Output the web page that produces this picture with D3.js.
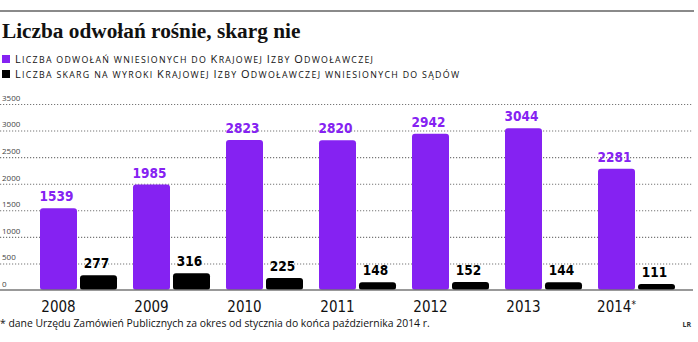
<!DOCTYPE html>
<html>
<head>
<meta charset="utf-8">
<script src="https://cdn.jsdelivr.net/npm/d3@7"></script>
<style>
	body { margin: 0; background: #fff; }
	svg { display: block; }
</style>
</head>
<body>
<svg id="chart" width="698" height="342"></svg>
<script>
// data
var years = ["2008", "2009", "2010", "2011", "2012", "2013", "2014*"];
var appeals = [1539, 1985, 2823, 2820, 2942, 3044, 2281];
var complaints = [277, 316, 225, 148, 152, 144, 111];
var yTicks = [0, 500, 1000, 1500, 2000, 2500, 3000, 3500];
var seriesNames = [
	"Liczba odwołań wniesionych do Krajowej Izby Odwoławczej",
	"Liczba skarg na wyroki Krajowej Izby Odwoławczej wniesionych do sądów"
];

var purple = "#8522f2";
var numFont = "DejaVu Sans Condensed, Liberation Sans, sans-serif";

var svg = d3.select("#chart"),
	width = +svg.attr("width");

var data = years.map(function(d, i) {
	return {year: d, a: appeals[i], b: complaints[i]};
});
var keys = ["a", "b"];
var z = d3.scaleOrdinal().domain(keys).range([purple, "#000"]);

// The scale spacing the groups:
var x0 = d3.scaleBand()
	.domain(years)
	.range([40, 675])
	.paddingInner(16 / 93)
	.paddingOuter(0);

// The scale for each group's bar:
var x1 = d3.scaleBand()
	.domain(keys)
	.range([0, x0.bandwidth()])
	.paddingInner(0.075);

var y = d3.scaleLinear()
	.domain([0, 3500])
	.range([290, 104]);

// top rule
svg.append("line")
	.attr("x1", 0).attr("x2", 694)
	.attr("y1", 11).attr("y2", 11)
	.attr("stroke", "#8a8a8a")
	.attr("stroke-width", 2);

// title
svg.append("text")
	.attr("x", 2)
	.attr("y", 38)
	.attr("font-family", "Liberation Serif, serif")
	.attr("font-weight", "bold")
	.attr("font-size", 21.3)
	.attr("fill", "#111")
	.text("Liczba odwołań rośnie, skarg nie");

// legend (hand-made small caps)
var legendWidths = [358, 444];
var legend = svg.append("g")
	.selectAll("g")
	.data(keys)
	.enter().append("g")
	.attr("transform", function(d, i) { return "translate(2," + (55 + i * 15) + ")"; });

legend.append("rect")
	.attr("width", 8)
	.attr("height", 8)
	.attr("fill", z);

legend.append("text")
	.attr("x", 13)
	.attr("y", 8)
	.attr("font-family", "Open Sans, sans-serif")
	.attr("fill", "#111")
	.attr("textLength", function(d, i) { return legendWidths[i]; })
	.attr("lengthAdjust", "spacing")
	.each(function(d, i) {
		var t = d3.select(this);
		seriesNames[i].split("").forEach(function(ch) {
			var big = ch !== ch.toLowerCase();
			t.append("tspan")
				.attr("font-size", big ? 11 : 8.8)
				.text(ch.toUpperCase());
		});
	});

// y grid + tick labels
var yAxis = svg.append("g")
	.attr("class", "y axis")
	.call(d3.axisRight(y).tickValues(yTicks).tickSize(693).tickFormat(d3.format("d")));

yAxis.select(".domain").remove();
yAxis.selectAll(".tick line")
	.attr("stroke", "#777")
	.attr("stroke-dasharray", "1.2,1.8")
	.attr("stroke-width", 1.1);
yAxis.selectAll(".tick text")
	.attr("x", 2)
	.attr("dy", "-0.45em")
	.attr("text-anchor", "start")
	.attr("font-family", "Open Sans, sans-serif")
	.attr("font-size", 8)
	.attr("fill", "#444");
yAxis.selectAll(".tick").filter(function(d) { return d === 0; }).select("line").remove();

// bars
var groups = svg.append("g")
	.selectAll("g")
	.data(data)
	.enter().append("g")
	.attr("class", "bar")
	.attr("transform", function(d) { return "translate(" + x0(d.year) + ",0)"; });

var cells = groups.selectAll("g")
	.data(function(d) { return keys.map(function(key) { return {key: key, value: d[key]}; }); })
	.enter().append("g");

cells.append("rect")
	.attr("x", function(d) { return x1(d.key); })
	.attr("y", function(d) { return y(d.value); })
	.attr("width", x1.bandwidth())
	.attr("height", function(d) { return y(0) - y(d.value); })
	.attr("rx", 3)
	.attr("fill", function(d) { return z(d.key); });

cells.append("text")
	.attr("x", function(d) { return x1(d.key) + x1.bandwidth() / 2 - 2; })
	.attr("y", function(d) { return y(d.value) - 7; })
	.attr("text-anchor", "middle")
	.attr("font-family", numFont)
	.attr("font-weight", "bold")
	.attr("font-size", 13.5)
	.attr("fill", function(d) { return z(d.key); })
	.text(function(d) { return d.value; });

// baseline
svg.append("line")
	.attr("x1", 0).attr("x2", 693)
	.attr("y1", y(0)).attr("y2", y(0))
	.attr("stroke", "#777")
	.attr("stroke-width", 1.5);

// year labels under the purple bars
var shift = x1("a") + x1.bandwidth() / 2 - x0.bandwidth() / 2;
var xAxis = svg.append("g")
	.attr("transform", "translate(" + shift + "," + y(0) + ")")
	.call(d3.axisBottom(x0).tickSize(0).tickPadding(0));

xAxis.select(".domain").remove();
xAxis.selectAll(".tick text")
	.attr("y", 22)
	.attr("dy", 0)
	.attr("font-family", numFont)
	.attr("font-size", 15)
	.attr("fill", "#111")
	.text(null)
	.each(function(d) {
		var t = d3.select(this);
		t.append("tspan").text(d.replace("*", ""));
		if (d.indexOf("*") > -1) {
			t.append("tspan").attr("font-size", 10).attr("dy", -4).text("*");
		}
	});

// footnote
svg.append("text")
	.attr("x", 0)
	.attr("y", 327)
	.attr("font-family", "Open Sans, sans-serif")
	.attr("font-size", 10.4)
	.attr("fill", "#111")
	.text("* dane Urzędu Zamówień Publicznych za okres od stycznia do końca października 2014 r.");

svg.append("text")
	.attr("x", 691)
	.attr("y", 327)
	.attr("text-anchor", "end")
	.attr("font-family", "Open Sans, sans-serif")
	.attr("font-weight", "bold")
	.attr("font-size", 7)
	.attr("fill", "#333")
	.text("LR");
</script>
</body>
</html>
